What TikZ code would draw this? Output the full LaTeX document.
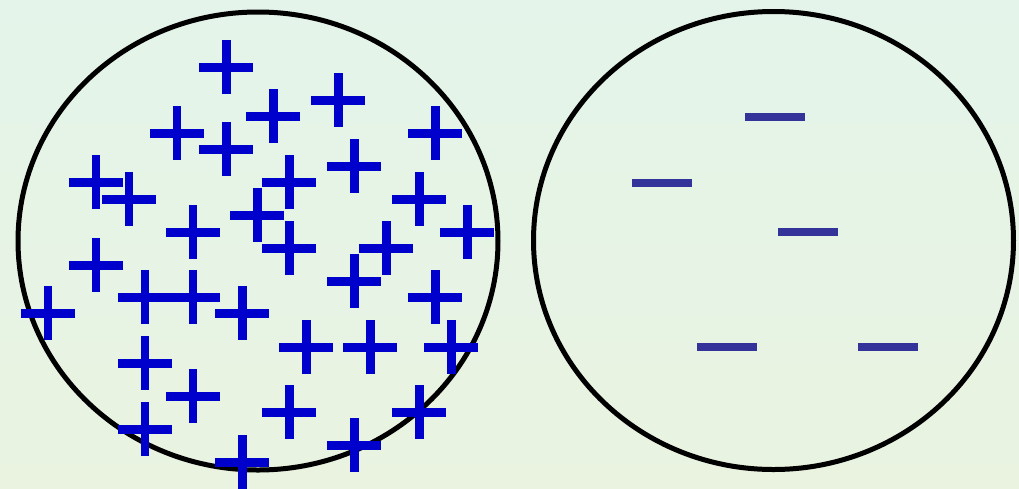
\documentclass[tikz,border=0pt]{standalone}

\definecolor{plusblue}{RGB}{0,0,204}
\definecolor{minusblue}{RGB}{51,51,153}
\definecolor{bgtop}{RGB}{228,244,234}
\definecolor{bgbottom}{RGB}{233,243,224}

\begin{document}
\begin{tikzpicture}[x=0.02cm,y=-0.02cm,
  plusmark/.style={draw=plusblue,line width=0.18cm},
  minusmark/.style={draw=minusblue,line width=0.16cm},
  body/.style={draw=black,line width=0.1cm}]

% Background
\useasboundingbox (0,0) rectangle (1019,488);
\fill[top color=bgtop,bottom color=bgbottom] (0,0) rectangle (1019,488);

% Bodies
\draw[body] (258,241) ellipse [x radius=240,y radius=229];
\draw[body] (773.5,240.5) ellipse [x radius=240,y radius=229];

% Positive charges
\foreach \x/\y in {226/67,273/116,338/100,177/133,226/149,435/133,
  96/182,129/199,289/182,354/166,419/199,193/232,257/215,467/232,
  289/248,386/248,96/265,354/281,48/313,145/297,193/297,242/313,
  435/297,306/347,370/347,451/347,145/363,193/396,289/412,419/412,
  145/429,242/462,354/445}
  \draw[plusmark] (\x-27,\y) -- (\x+27,\y) (\x,\y-27) -- (\x,\y+27);

% Negative charges
\foreach \x/\y in {775/117,662/183,808/232,727/347,888/347}
  \draw[minusmark] (\x-30,\y) -- (\x+30,\y);

\end{tikzpicture}
\end{document}
